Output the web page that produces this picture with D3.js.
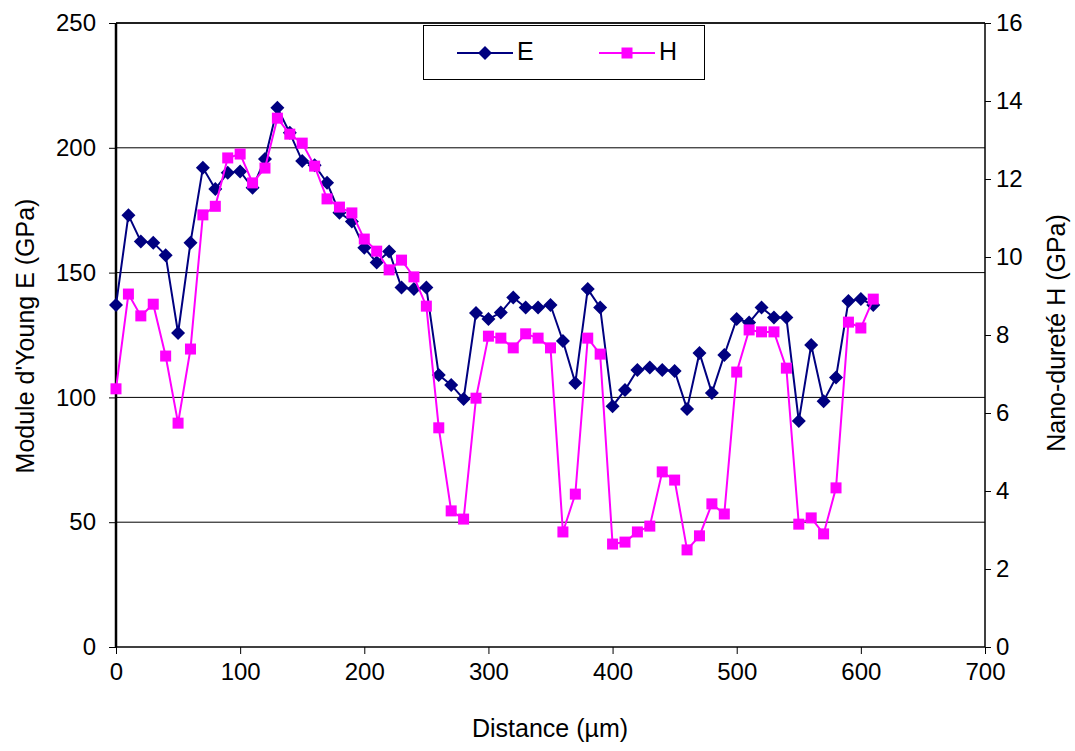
<!DOCTYPE html>
<html><head><meta charset="utf-8">
<script src="https://cdn.jsdelivr.net/npm/d3@7"></script>
<style>body{margin:0;background:#fff}svg{display:block;font-family:"Liberation Sans",Arial,sans-serif}</style>
</head><body><svg id="c" width="1075" height="751"></svg>
<script>
const distances = [0,10,20,30,40,50,60,70,80,90,100,110,120,130,140,150,160,170,180,190,200,210,220,230,240,250,260,270,280,290,300,310,320,330,340,350,360,370,380,390,400,410,420,430,440,450,460,470,480,490,500,510,520,530,540,550,560,570,580,590,600,610];
const eValues = [137,173,162.5,162,157,125.8,162,192,183.5,190,190.5,184,195.5,216,206,194.7,193,186,174,170.5,160,154,158.5,144,143.4,144,109,105,99.4,133.8,131.4,134,140,136,136,137,122.6,105.8,143.4,136,96.5,103,111,112,111,110.6,95.4,117.8,101.8,117,131.4,130,136,132,132,90.5,121,98.5,108,138.6,139.4,137];
const hValues = [6.62,9.05,8.49,8.79,7.46,5.74,7.64,11.08,11.3,12.54,12.64,11.9,12.28,13.56,13.15,12.92,12.33,11.49,11.28,11.13,10.46,10.15,9.67,9.92,9.49,8.74,5.62,3.49,3.28,6.38,7.97,7.92,7.67,8.03,7.92,7.67,2.95,3.92,7.92,7.51,2.64,2.69,2.95,3.1,4.49,4.28,2.49,2.85,3.67,3.41,7.05,8.13,8.08,8.08,7.15,3.15,3.31,2.9,4.08,8.33,8.18,8.92];
const xTicks = [0,100,200,300,400,500,600,700];
const eTicks = [0,50,100,150,200,250];
const hTicks = [0,2,4,6,8,10,12,14,16];

const svg = d3.select("#c");
const L=116,R=985,T=23,B=647;
const x = d3.scaleLinear().domain([0,700]).range([L,R]);
const yE = d3.scaleLinear().domain([0,250]).range([B,T]);
const yH = d3.scaleLinear().domain([0,16]).range([B,T]);
const FONT = "Liberation Sans, Arial, sans-serif";

// gridlines
svg.append("g").selectAll("line").data(eTicks.filter(d=>d>0)).join("line")
  .attr("x1",L).attr("x2",R).attr("y1",d=>yE(d)).attr("y2",d=>yE(d))
  .attr("stroke","#000").attr("stroke-width",1);

// axes
const axL = svg.append("g").attr("transform",`translate(${L},0)`)
  .call(d3.axisLeft(yE).tickValues(eTicks).tickSize(7).tickPadding(13));
const axR = svg.append("g").attr("transform",`translate(${R},0)`)
  .call(d3.axisRight(yH).tickValues(hTicks).tickSize(6).tickPadding(5));
const axB = svg.append("g").attr("transform",`translate(0,${B})`)
  .call(d3.axisBottom(x).tickValues(xTicks).tickSize(7).tickPadding(9));
[axL,axR,axB].forEach(a=>{
  a.selectAll(".tick line").attr("stroke","#000").attr("stroke-width",1);
  a.selectAll("text").attr("font-size",24).attr("fill","#000").style("font-family",FONT);
});
axL.select(".domain").attr("d",`M0,${T}V${B}`).attr("stroke","#000").attr("stroke-width",2.5);
axR.select(".domain").attr("d",`M0,${T}V${B}`).attr("stroke","#000").attr("stroke-width",1.5);
axB.select(".domain").attr("d",`M${L},0H${R}`).attr("stroke","#000").attr("stroke-width",1.5);
svg.append("line").attr("x1",L).attr("x2",R).attr("y1",T).attr("y2",T).attr("stroke","#000").attr("stroke-width",1.5);

// series
const lineE = d3.line().x((d,i)=>x(distances[i])).y(d=>yE(d));
const lineH = d3.line().x((d,i)=>x(distances[i])).y(d=>yH(d));
const cE="#000080", cH="#FF00FF";
svg.append("path").datum(eValues).attr("d",lineE).attr("fill","none").attr("stroke",cE).attr("stroke-width",2);
svg.append("g").selectAll("path").data(eValues).join("path")
  .attr("d","M0,-7L7,0L0,7L-7,0Z").attr("fill",cE)
  .attr("transform",(d,i)=>`translate(${x(distances[i])},${yE(d)})`);
svg.append("path").datum(hValues).attr("d",lineH).attr("fill","none").attr("stroke",cH).attr("stroke-width",2);
svg.append("g").selectAll("rect").data(hValues).join("rect")
  .attr("x",(d,i)=>x(distances[i])-5.5).attr("y",d=>yH(d)-5.5)
  .attr("width",11).attr("height",11).attr("fill",cH);

// titles
svg.append("text").attr("transform","translate(34,336) rotate(-90)").attr("text-anchor","middle")
  .attr("font-size",25).text("Module d'Young E (GPa)");
svg.append("text").attr("transform","translate(1065,333) rotate(-90)").attr("text-anchor","middle")
  .attr("font-size",25).text("Nano-dureté H (GPa)");
svg.append("text").attr("x",550).attr("y",737).attr("text-anchor","middle")
  .attr("font-size",25).text("Distance (µm)");

// legend
const lg = svg.append("g");
lg.append("rect").attr("x",423.5).attr("y",25.5).attr("width",281).attr("height",54).attr("fill","#fff").attr("stroke","#000").attr("stroke-width",1);
lg.append("line").attr("x1",457).attr("x2",513).attr("y1",53).attr("y2",53).attr("stroke",cE).attr("stroke-width",2);
lg.append("path").attr("d","M0,-7L7,0L0,7L-7,0Z").attr("fill",cE).attr("transform","translate(485,53)");
lg.append("text").attr("x",517).attr("y",60).attr("font-size",25).text("E");
lg.append("line").attr("x1",599).attr("x2",655).attr("y1",53).attr("y2",53).attr("stroke",cH).attr("stroke-width",2);
lg.append("rect").attr("x",621.5).attr("y",47.5).attr("width",11).attr("height",11).attr("fill",cH);
lg.append("text").attr("x",659).attr("y",60).attr("font-size",25).text("H");
</script></body></html>
